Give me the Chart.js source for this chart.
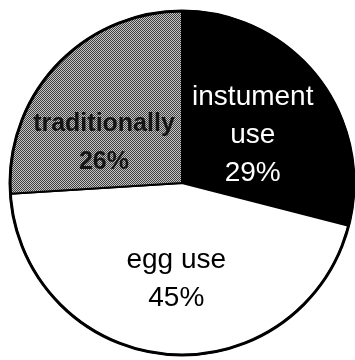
<!DOCTYPE html>
<html>
<head>
<meta charset="utf-8">
<script src="https://cdn.jsdelivr.net/npm/chart.js@4"></script>
<style>
  html, body { margin: 0; padding: 0; background: #fff; }
  #wrap { width: 355px; height: 360px; }
</style>
</head>
<body>
<div id="wrap"><canvas id="pie"></canvas></div>
<script>
// chart data
const categories = ["instument use", "egg use", "traditionally"];
const shares = [29, 45, 26];
const labelLines = [["instument", "use", "29%"], ["egg use", "45%"], ["traditionally", "26%"]];

// label placement inside each slice: fraction of radius, angle shift (deg)
const labelPlace = [[0.495, 4], [0.56, -2], [0.51, -16]];

// dithered gray for the "traditionally" slice
function ditherPattern() {
  const c = document.createElement('canvas');
  c.width = 4; c.height = 4;
  const g = c.getContext('2d');
  g.fillStyle = '#c4c4c4';
  g.fillRect(0, 0, 4, 4);
  g.fillStyle = '#404040';
  for (let y = 0; y < 4; y++) {
    for (let x = 0; x < 4; x++) {
      if ((x + y) % 2 === 0) g.fillRect(x, y, 1, 1);
    }
  }
  return g.createPattern(c, 'repeat');
}

const sliceLabels = {
  id: 'sliceLabels',
  afterDatasetsDraw(chart) {
    const ctx = chart.ctx;
    const arcs = chart.getDatasetMeta(0).data;
    // thicker outer rim
    const a0 = arcs[0];
    ctx.save();
    ctx.beginPath();
    ctx.arc(a0.x, a0.y, a0.outerRadius, 0, Math.PI * 2);
    ctx.lineWidth = 3;
    ctx.strokeStyle = '#000';
    ctx.stroke();

    ctx.textAlign = 'center';
    ctx.textBaseline = 'middle';
    arcs.forEach((arc, i) => {
      const mid = (arc.startAngle + arc.endAngle) / 2 + labelPlace[i][1] * Math.PI / 180;
      const r = arc.outerRadius * labelPlace[i][0];
      const cx = arc.x + Math.cos(mid) * r;
      const cy = arc.y + Math.sin(mid) * r;
      const lines = labelLines[i];
      const lh = 38;
      if (i === 2) {
        ctx.font = 'bold 25px "Liberation Sans", Arial, sans-serif';
        ctx.fillStyle = '#151515';
      } else {
        ctx.font = '28px "Liberation Sans", Arial, sans-serif';
        ctx.fillStyle = i === 0 ? '#fff' : '#000';
      }
      lines.forEach((t, j) => {
        ctx.fillText(t, cx, cy + (j - (lines.length - 1) / 2) * lh);
      });
    });
    ctx.restore();
  }
};

new Chart(document.getElementById('pie'), {
  type: 'pie',
  data: {
    labels: categories,
    datasets: [{
      data: shares,
      backgroundColor: ['#000000', '#ffffff', ditherPattern()],
      borderColor: '#000',
      borderWidth: 2
    }]
  },
  options: {
    responsive: true,
    maintainAspectRatio: false,
    animation: false,
    layout: { padding: { left: 9, right: 0, top: 10, bottom: 4 } },
    plugins: {
      legend: { display: false },
      tooltip: { enabled: false }
    }
  },
  plugins: [sliceLabels]
});
</script>
</body>
</html>
